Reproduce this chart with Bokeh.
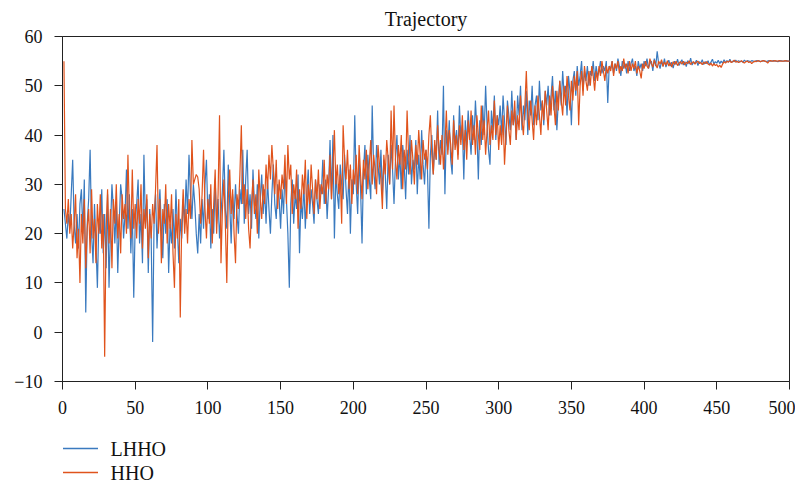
from bokeh.plotting import figure
from bokeh.layouts import column
from bokeh.models import Range1d, FixedTicker, ColumnDataSource
from bokeh.core.properties import value
from bokeh.embed import file_html
from bokeh.resources import INLINE

# ---- data ----
steps = list(range(1, 502))

lhho = [
    25, 22, 19, 24, 21, 28, 35, 22, 18, 24, 17, 26, 29, 20, 31, 4, 22, 27, 37, 20, 14, 26, 18, 9, 23,
    20, 29, 16, 24, 13, 28, 9, 21, 30, 25, 18, 26, 12, 22, 30, 27, 19, 24, 33, 21, 28, 16, 25, 7, 22,
    26, 31, 18, 24, 14, 36, 22, 27, 12, 25, 19, -2, 23, 28, 17, 24, 29, 21, 15, 26, 20, 27, 12, 22, 18,
    25, 17, 29, 21, 14, 23, 19, 27, 22, 31, 24, 36, 28, 23, 30, 26, 20, 16, 24, 18, 27, 21, 30, 35, 23,
    28, 17, 25, 20, 31, 22, 27, 19, 24, 29, 37, 25, 21, 34, 26, 18, 28, 23, 30, 24, 20, 29, 26, 37, 22,
    31, 37, 24, 28, 21, 33, 26, 23, 30, 19, 27, 32, 24, 29, 22, 31, 25, 20, 28, 34, 26, 23, 30, 27, 21,
    29, 24, 33, 27, 20, 9, 26, 31, 22, 28, 25, 32, 16, 27, 23, 30, 21, 28, 33, 24, 29, 26, 22, 31, 27,
    24, 30, 28, 35, 26, 31, 23, 29, 39, 27, 40, 19, 32, 28, 25, 34, 30, 27, 36, 29, 24, 33, 20, 31, 28,
    44, 30, 24, 35, 29, 18, 33, 38, 28, 36, 31, 27, 46, 33, 29, 38, 34, 30, 37, 28, 35, 32, 25, 36, 30,
    38, 33, 26, 35, 40, 31, 36, 29, 38, 34, 27, 37, 32, 40, 30, 35, 33, 39, 28, 36, 31, 41, 34, 30, 37,
    33, 21, 36, 40, 32, 38, 35, 45, 34, 39, 36, 50, 28, 41, 37, 43, 35, 32, 44, 38, 41, 36, 46, 39, 42,
    31, 43, 38, 45, 40, 36, 44, 39, 47, 41, 31, 43, 38, 46, 40, 50, 42, 37, 34, 45, 41, 48, 39, 44, 42,
    46, 40, 48, 43, 38, 47, 44, 41, 49, 42, 45, 39, 48, 44, 50, 41, 46, 43, 49, 40, 47, 44, 50, 42, 46,
    48, 43, 51, 45, 47, 42, 49, 46, 50, 44, 48, 52, 45, 49, 41, 47, 51, 46, 53, 48, 50, 44, 52, 49, 42,
    51, 53, 48, 54, 50, 52, 55, 49, 53, 51, 54, 50, 53, 52, 55, 51, 54, 52, 53, 55, 52.5, 54, 53, 55, 46.5,
    54, 53.5, 55, 52.5, 54.5, 53, 55.5, 54, 52, 55, 53.5, 54.5, 52.5, 55, 53, 54.5, 55.5, 53, 54, 52, 55, 53.5, 54.5, 53, 55,
    54, 55.5, 53.5, 54.5, 55, 53, 55.5, 54, 57, 54.5, 53.5, 55, 54, 55.5, 53.8, 54.6, 55.2, 54, 54.8, 53.6, 55, 54.3, 55.4, 54.1, 54.7,
    55.3, 54.2, 54.9, 53.9, 55.1, 54.4, 55.6, 54.2, 54.8, 54.5, 55.2, 54.1, 54.9, 54.6, 55.3, 54.3, 54.9, 54.5, 55.1, 54.2, 54.8, 55.4, 54.4, 54.9, 54.6,
    55.2, 54.5, 55, 54.6, 55.3, 54.7, 55.1, 54.8, 55.4, 54.7, 55, 54.9, 55.2, 54.8, 55.1, 54.9, 55, 54.8, 55.2, 54.9, 55.1, 55, 54.9, 55.1, 55,
    54.9, 55.1, 55, 55.1, 54.9, 55, 55.1, 55, 54.9, 55, 55.1, 55, 55, 55.1, 55, 55, 54.9, 55, 55.1, 55, 55, 55, 55.1, 55, 55, 55,
]

hho = [
    55, 25, 22, 27, 20, 24, 17, 22, 28, 15, 21, 10, 24, 18, 27, 13, 21, 25, 16, 29, 19, 23, 14, 26, 20,
    28, 17, 24, -5, 21, 29, 18, 25, 13, 27, 22, 30, 19, 24, 16, 28, 23, 26, 20, 36, 24, 19, 33, 21, 26,
    19, 27, 22, 30, 17, 25, 21, 28, 15, 24, 19, 26, 22, 29, 38, 20, 27, 14, 25, 22, 30, 18, 26, 21, 28,
    16, 9, 24, 19, 27, 3, 22, 29, 20, 25, 18, 27, 23, 39, 30, 31, 32, 31.5, 29, 22, 28, 37, 25, 19, 27,
    22, 30, 18, 26, 33, 20, 28, 44, 14, 25, 31, 22, 10, 27, 33, 24, 29, 20, 14, 28, 25, 32, 42, 26, 30,
    23, 29, 21, 17, 26, 31, 24, 28, 20, 33, 27, 23, 30, 26, 34, 29, 36, 31, 38, 33, 28, 35, 25, 31, 27,
    32, 29, 36, 26, 38, 31, 34, 24, 30, 27, 33, 21, 29, 25, 32, 28, 35, 23, 30, 26, 34, 29, 24, 31, 27,
    33, 25, 30, 28, 35, 26, 32, 29, 36, 27, 33, 41, 30, 34, 28, 32, 22, 42, 35, 31, 37, 29, 34, 26, 33,
    30, 36, 28, 38, 32, 27, 35, 31, 37, 29, 34, 39, 30, 36, 33, 28, 38, 34, 31, 25, 36, 32, 39, 35, 30,
    45, 33, 46, 35, 31, 38, 34, 40, 29, 37, 33, 45, 36, 32, 39, 35, 30, 38, 34, 41, 36, 31, 39, 35, 37,
    33, 40, 44, 36, 32, 39, 35, 42, 37, 34, 40, 33, 38, 45, 36, 41, 38, 34, 43, 37, 40, 35, 42, 38, 44,
    37, 41, 35, 43, 39, 45, 38, 42, 36, 44, 40, 37, 46, 39, 43, 36, 41, 45, 38, 42, 39, 47, 40, 44, 37,
    42, 38, 44, 34, 40, 46, 41, 38, 45, 42, 47, 39, 44, 41, 48, 43, 40, 46, 53, 44, 41, 47, 43, 39, 46,
    42, 48, 44, 40, 47, 43, 49, 45, 41, 48, 44, 50, 46, 42, 49, 45, 51, 47, 44, 50, 46, 52, 48, 45, 51,
    47, 52, 49, 53, 42, 50, 53, 48, 54, 51, 49, 53, 50, 54, 52, 49, 53, 51, 54, 52, 55, 53, 51, 54, 52.5,
    54, 53, 55, 52, 54.5, 53.5, 55, 52.5, 54, 53, 55.5, 53.5, 54.5, 52.5, 55, 53, 54.5, 53.5, 55, 52.5, 54, 53, 51.5, 54.5, 53.5,
    55, 54, 53.5, 55.5, 54.5, 53.8, 55.2, 54.3, 53.6, 55, 54.4, 55.3, 53.9, 54.8, 54.2, 55.1, 54, 54.7, 53.8, 54.9, 54.3, 55, 54.1, 54.6, 54.9,
    54.4, 55, 54.2, 54.8, 54.5, 55.1, 54.3, 54.7, 54.9, 54.4, 54.8, 55, 54.5, 54.7, 54.3, 54.8, 54.5, 54.9, 54.4, 54.2, 54.6, 54, 54.5, 54.1, 54.3,
    53.8, 54.2, 53.7, 54.4, 54.9, 54.6, 55, 54.8, 55.1, 54.7, 54.9, 55.2, 54.8, 55, 54.7, 54.9, 55.1, 54.8, 54.6, 54.9, 55, 54.7, 54.9, 54.5, 54.8,
    55, 54.9, 55.1, 55, 54.9, 55, 55.1, 55, 54.9, 54.6, 55, 55.1, 55, 55, 55.1, 55, 55, 55.1, 55, 55, 55, 55.1, 55, 55, 55, 55,
]

assert len(lhho) == len(steps), ("lhho", len(lhho))
assert len(hho) == len(steps), ("hho", len(hho))

title_text = "Trajectory"
series_names = ["LHHO", "HHO"]
series_colors = ["#3a7abf", "#e0531c"]
x_ticks = [0, 50, 100, 150, 200, 250, 300, 350, 400, 450, 500]
y_ticks = [-10, 0, 10, 20, 30, 40, 50, 60]

FONT = "Liberation Serif"
TEXT_COLOR = "#111111"

# ---- main chart ----
p = figure(
    width=795, height=420,
    output_backend="svg", toolbar_location=None,
    x_range=Range1d(0, 500), y_range=Range1d(-10, 60),
    title=title_text,
    min_border_left=62, min_border_right=6, min_border_top=36, min_border_bottom=39,
)

src = ColumnDataSource(dict(x=steps, lhho=lhho, hho=hho))
p.line("x", "lhho", source=src, line_color=series_colors[0], line_width=1.2)
p.line("x", "hho", source=src, line_color=series_colors[1], line_width=1.2)

p.title.text_font = FONT
p.title.text_font_size = "20px"
p.title.text_font_style = "normal"
p.title.align = "center"
p.title.vertical_align = "top"
p.title.text_color = TEXT_COLOR
p.title.offset = 0
p.title.standoff = 10

p.grid.visible = False
p.outline_line_color = "#222222"
p.outline_line_width = 1
p.outline_line_alpha = 1

for ax in (p.xaxis[0], p.yaxis[0]):
    ax.axis_line_color = "#222222"
    ax.major_tick_line_color = "#222222"
    ax.major_tick_out = 8
    ax.major_tick_in = 0
    ax.minor_tick_line_color = None
    ax.major_label_text_font = FONT
    ax.major_label_text_font_size = "18px"
    ax.major_label_text_color = TEXT_COLOR

p.xaxis[0].ticker = FixedTicker(ticks=x_ticks)
p.yaxis[0].ticker = FixedTicker(ticks=y_ticks)
p.yaxis[0].major_label_overrides = {t: str(t).replace("-", "\u2212") for t in y_ticks}
p.xaxis[0].major_label_standoff = 11
p.yaxis[0].major_label_standoff = 12

# ---- legend strip below the chart (screen-like units: 727 x 66) ----
lg = figure(
    width=795, height=66,
    output_backend="svg", toolbar_location=None,
    x_range=Range1d(0, 727), y_range=Range1d(0, 66),
    x_axis_location=None, y_axis_location=None,
    min_border_left=62, min_border_right=6, min_border_top=0, min_border_bottom=0,
)
lg.outline_line_color = None
lg.grid.visible = False
key_rows = [38, 14]
lg.rect(x=[18, 18], y=key_rows, width=35, height=1.5,
        fill_color=series_colors, line_color=None)
lg.text(x=[48, 48], y=key_rows, text=series_names, text_font=value(FONT), text_font_size="20px",
        text_align="left", text_baseline="middle", text_color=TEXT_COLOR)

layout = column(p, lg, spacing=0)
open("out.html", "w").write(file_html(layout, INLINE))
